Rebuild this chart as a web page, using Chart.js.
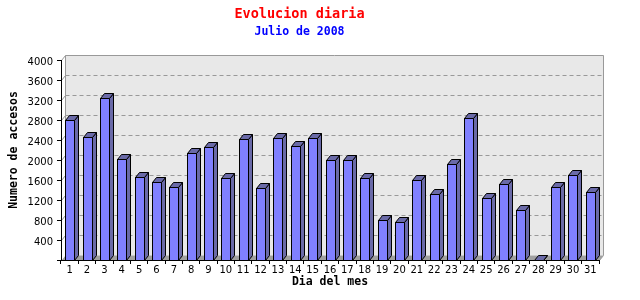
<!DOCTYPE html>
<html>
<head>
<meta charset="utf-8">
<script src="https://cdn.jsdelivr.net/npm/chart.js@4.4.0/dist/chart.umd.min.js"></script>
<style>
  html, body { margin: 0; padding: 0; background: #fff; }
  #wrap { width: 640px; height: 300px; }
</style>
</head>
<body>
<div id="wrap"><canvas id="grafico" width="640" height="300"></canvas></div>
<script>
// Datos: accesos diarios, julio de 2008
const dias = ['1', '2', '3', '4', '5', '6', '7', '8', '9', '10', '11', '12', '13', '14', '15', '16',
              '17', '18', '19', '20', '21', '22', '23', '24', '25', '26', '27', '28', '29', '30', '31'];
const accesos = [2800, 2470, 3240, 2020, 1660, 1560, 1460, 2140, 2260, 1640, 2420, 1440, 2440, 2280, 2440, 2000,
                 2000, 1640, 800, 760, 1600, 1320, 1920, 2840, 1240, 1520, 1000, 0, 1460, 1700, 1360];
const yMax = 4000;
const yPaso = 400;
const tituloY = 'Numero de accesos';

// profundidad del efecto 3D
const DX = 4, DY = 5;

const MONO = "'DejaVu Sans Mono', 'Liberation Mono', monospace";
const SANS = "'DejaVu Sans', Verdana, sans-serif";

const px = v => Math.round(v) + 0.5;

// Fondo: pared trasera, suelo y rejilla discontinua desplazados
const fondo3d = {
  id: 'fondo3d',
  beforeDraw(chart) {
    const { ctx, chartArea: a, scales: { y } } = chart;
    const L = px(a.left + DX), R = px(a.right + DX), T = px(a.top - DY), B = px(a.bottom - DY);
    ctx.save();
    ctx.fillStyle = '#e8e8e8';
    ctx.fillRect(L, T, R - L, B - T);

    // suelo
    ctx.fillStyle = '#a0a0a0';
    ctx.beginPath();
    ctx.moveTo(px(a.left), px(a.bottom));
    ctx.lineTo(px(a.right), px(a.bottom));
    ctx.lineTo(R, B);
    ctx.lineTo(L, B);
    ctx.closePath();
    ctx.fill();

    // rejilla
    ctx.strokeStyle = '#999999';
    ctx.lineWidth = 1;
    for (let v = yPaso; v < yMax; v += yPaso) {
      const yy = px(y.getPixelForValue(v) - DY);
      ctx.setLineDash([]);
      ctx.beginPath();
      ctx.moveTo(px(a.left), yy + DY);
      ctx.lineTo(L, yy);
      ctx.stroke();
      ctx.setLineDash([4, 3]);
      ctx.beginPath();
      ctx.moveTo(L, yy);
      ctx.lineTo(R, yy);
      ctx.stroke();
    }
    ctx.setLineDash([]);

    // bordes de la pared
    ctx.beginPath();
    ctx.moveTo(px(a.left), px(a.top));
    ctx.lineTo(L, T);
    ctx.moveTo(L, B);
    ctx.lineTo(L, T);
    ctx.lineTo(R, T);
    ctx.lineTo(R, B);
    ctx.lineTo(px(a.right), px(a.bottom));
    ctx.stroke();
    ctx.restore();
  },
  // barras con cara frontal, lateral y superior
  beforeDatasetDraw(chart, args) {
    const { ctx } = chart;
    const meta = chart.getDatasetMeta(args.index);
    const ds = chart.data.datasets[args.index];
    ctx.save();
    ctx.lineWidth = 1;
    ctx.strokeStyle = '#000';
    meta.data.forEach(bar => {
      const { x, y, base, width } = bar.getProps(['x', 'y', 'base', 'width'], true);
      const l = px(x - width / 2), r = px(x + width / 2);
      const t = px(y), b = px(base);
      ctx.fillStyle = ds.backgroundColor;
      ctx.fillRect(l, t, r - l, b - t);
      ctx.strokeRect(l, t, r - l, b - t);
      ctx.fillStyle = ds.sideColor;
      ctx.beginPath();
      ctx.moveTo(r, t); ctx.lineTo(r + DX, t - DY); ctx.lineTo(r + DX, b - DY); ctx.lineTo(r, b);
      ctx.closePath(); ctx.fill(); ctx.stroke();
      ctx.beginPath();
      ctx.moveTo(l, t); ctx.lineTo(l + DX, t - DY); ctx.lineTo(r + DX, t - DY); ctx.lineTo(r, t);
      ctx.closePath(); ctx.fill(); ctx.stroke();
    });
    ctx.restore();
    return false;
  },
  // titulo del eje Y, algo por encima del centro del area
  afterDraw(chart) {
    const { ctx, chartArea: a } = chart;
    ctx.save();
    ctx.translate(14, (a.top + a.bottom) / 2 - 10);
    ctx.rotate(-Math.PI / 2);
    ctx.font = 'bold 11.5px ' + MONO;
    ctx.fillStyle = '#000';
    ctx.textAlign = 'center';
    ctx.textBaseline = 'middle';
    ctx.fillText(tituloY, 0, 0);
    ctx.restore();
  }
};

const ctx = document.getElementById('grafico').getContext('2d');
new Chart(ctx, {
  type: 'bar',
  data: {
    labels: dias,
    datasets: [{
      label: 'Accesos',
      data: accesos,
      backgroundColor: '#8080ff',
      sideColor: '#6a6aa8',
      borderColor: '#000',
      borderWidth: 1,
      barThickness: 9
    }]
  },
  options: {
    responsive: false,
    animation: false,
    layout: { padding: { left: 0, right: 41, top: 0, bottom: 0 } },
    plugins: {
      legend: { display: false },
      tooltip: { enabled: false },
      title: {
        display: true,
        text: 'Evolucion diaria',
        color: '#ff0000',
        font: { family: MONO, size: 13.5, weight: 'bold' },
        padding: { top: 6, bottom: 0 }
      },
      subtitle: {
        display: true,
        text: 'Julio de 2008',
        color: '#0000ff',
        font: { family: MONO, size: 11.5, weight: 'bold' },
        padding: { top: 3, bottom: 21 }
      }
    },
    scales: {
      x: {
        afterFit: s => { s.height = 40; },
        grid: { offset: true, drawOnChartArea: false, drawTicks: true, tickLength: 4, color: '#000' },
        border: { color: '#000' },
        ticks: { color: '#000', padding: 0, maxRotation: 0, autoSkip: false, font: { family: SANS, size: 10 } },
        title: {
          display: true,
          text: 'Dia del mes',
          color: '#000',
          font: { family: MONO, size: 11.5, weight: 'bold' },
          padding: { top: 0, bottom: 11 }
        }
      },
      y: {
        min: 0,
        max: yMax,
        afterFit: s => { s.width = 61; },
        grid: { drawOnChartArea: false, drawTicks: true, tickLength: 4, color: '#000' },
        border: { color: '#000' },
        ticks: {
          stepSize: yPaso,
          color: '#000',
          padding: 4,
          labelOffset: 2,
          font: { family: SANS, size: 10 },
          callback: v => (v === 0 ? '' : v)
        }
      }
    }
  },
  plugins: [fondo3d]
});
</script>
</body>
</html>
